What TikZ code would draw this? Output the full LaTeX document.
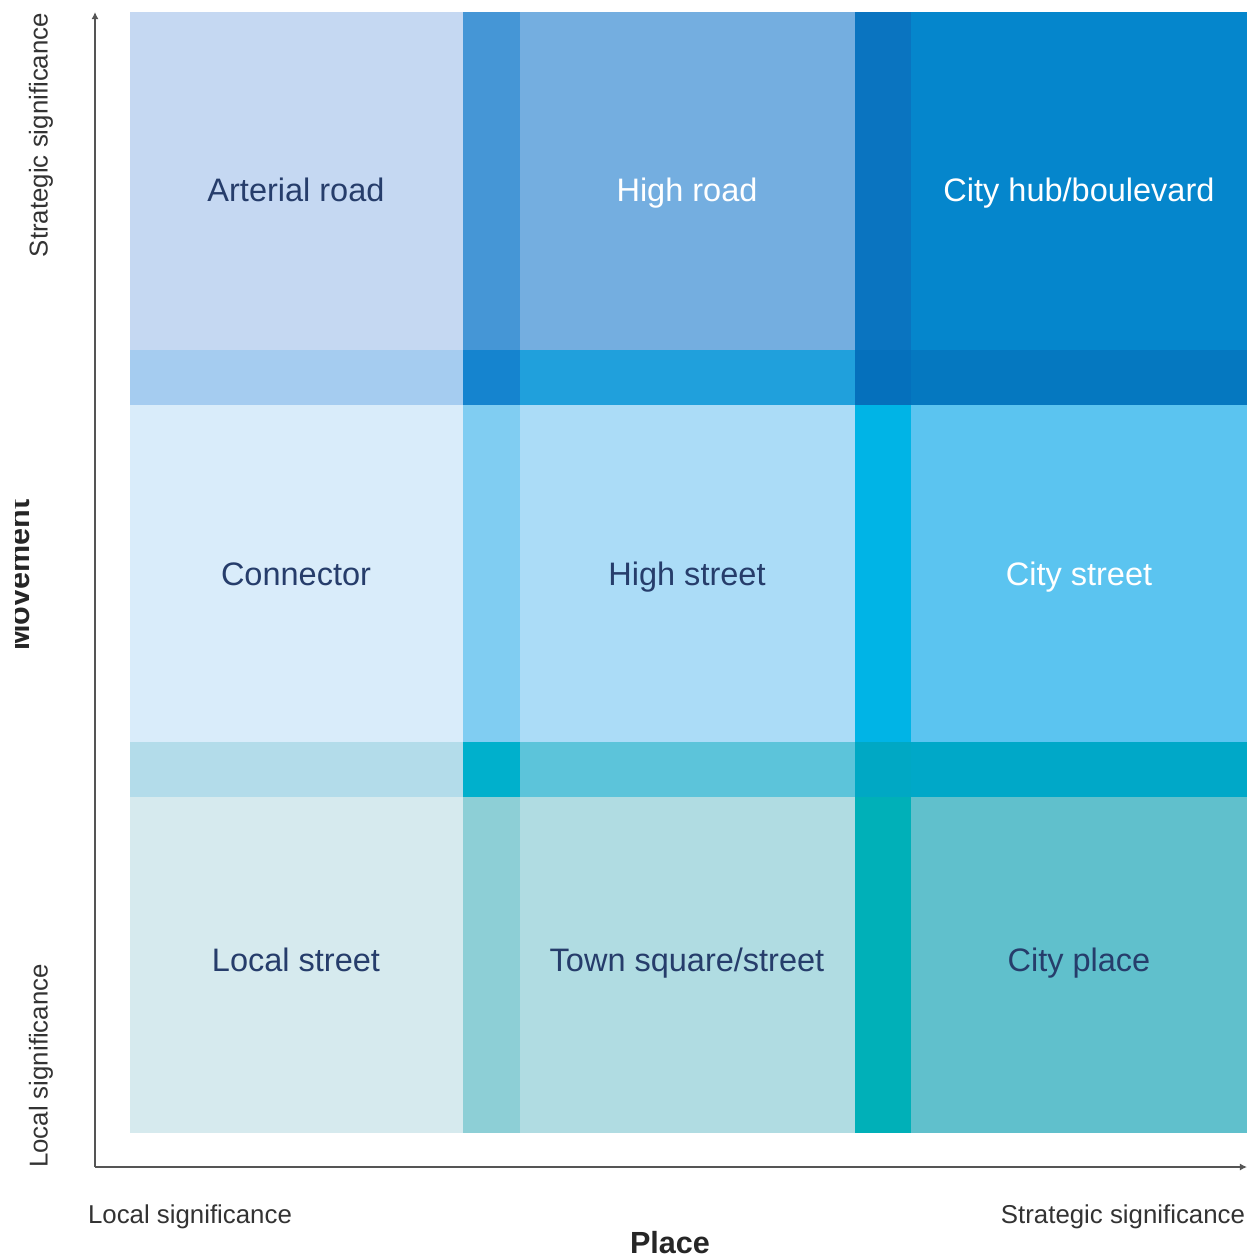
\documentclass[tikz,border=0pt]{standalone}
\usepackage{fontspec}
\setmainfont{Liberation Sans}
\usetikzlibrary{arrows.meta}
\definecolor{navy}{HTML}{263D6B}
\definecolor{axisgray}{HTML}{555555}
\definecolor{labgray}{HTML}{333333}
% row 1
\definecolor{aA}{HTML}{C5D8F2}\definecolor{aB}{HTML}{4596D6}\definecolor{aC}{HTML}{74AEE0}\definecolor{aD}{HTML}{0A74C0}\definecolor{aE}{HTML}{0586CC}
% strip 1
\definecolor{bA}{HTML}{A5CCF0}\definecolor{bB}{HTML}{1584CF}\definecolor{bC}{HTML}{20A0DC}\definecolor{bD}{HTML}{0570BC}\definecolor{bE}{HTML}{0578C0}
% row 2
\definecolor{cA}{HTML}{D9ECFA}\definecolor{cB}{HTML}{80CDF2}\definecolor{cC}{HTML}{ABDCF7}\definecolor{cD}{HTML}{00B4E6}\definecolor{cE}{HTML}{5BC4F0}
% strip 2
\definecolor{dA}{HTML}{B3DCEA}\definecolor{dB}{HTML}{00B0CC}\definecolor{dC}{HTML}{5CC4DA}\definecolor{dD}{HTML}{00A8C4}\definecolor{dE}{HTML}{00A8C8}
% row 3
\definecolor{eA}{HTML}{D6EAEE}\definecolor{eB}{HTML}{8DCFD6}\definecolor{eC}{HTML}{B0DCE2}\definecolor{eD}{HTML}{00B0B8}\definecolor{eE}{HTML}{60C0CC}
\begin{document}
\begin{tikzpicture}[x=0.02cm,y=-0.02cm,
  celltext/.style={font=\fontsize{18.5}{22}\selectfont, text=navy, inner sep=0pt, text height=13.5pt, text depth=4pt},
  celltextw/.style={celltext, text=white},
  axislabel/.style={font=\fontsize{14.7}{17}\selectfont, text=labgray, inner sep=0pt, text height=10.8pt, text depth=3.2pt},
  axistitle/.style={font=\fontsize{17.4}{20}\selectfont\bfseries, text=black!85, inner sep=0pt},
  axisline/.style={draw=axisgray, line width=0.9pt, -{Latex[length=4pt,width=4pt]}}]
\useasboundingbox (0,0) rectangle (1253,1259);
\fill[white] (0,0) rectangle (1253,1259);
% column bounds: 130 463 520 855 911 1247 ; row bounds: 12 350 405 742 797 1133
\foreach \r/\ya/\yb in {a/12/350, b/350/405, c/405/742, d/742/797, e/797/1133}{
  \fill[\r A] (130,\ya) rectangle (463,\yb);
  \fill[\r B] (463,\ya) rectangle (520,\yb);
  \fill[\r C] (520,\ya) rectangle (855,\yb);
  \fill[\r D] (855,\ya) rectangle (911,\yb);
  \fill[\r E] (911,\ya) rectangle (1247,\yb);
}
% cell labels
\node[celltext]  (arterial) at (296,193) {Arterial road};
\node[celltextw] (highroad) at (687,193) {High road};
\node[celltextw] (cityhub)  at (1079,193) {City hub/boulevard};
\node[celltext]  (connector) at (296,577) {Connector};
\node[celltext]  (highstreet) at (687,577) {High street};
\node[celltextw] (citystreet) at (1079,577) {City street};
\node[celltext]  (localstreet) at (296,963) {Local street};
\node[celltext]  (townsquare) at (687,963) {Town square/street};
\node[celltext]  (cityplace) at (1079,963) {City place};
% axes
\coordinate (O) at (95,1167);
\coordinate (Ytop) at (95,12);
\coordinate (Xend) at (1247,1167);
\draw[axisline] (O) -- (Ytop);
\draw[axisline] (O) -- (Xend);
% axis labels
\node[axislabel, rotate=90] (ystrat) at (41,135) {Strategic significance};
\node[axislabel, rotate=90] (ylocal) at (41,1066) {Local significance};
\node[axislabel] (xlocal) at (190,1217) {Local significance};
\node[axislabel] (xstrat) at (1123,1217) {Strategic significance};
\node[axistitle] (place) at (670,1243) {Place};
\begin{scope}
  \clip (15,0) rectangle (1253,1259);
  \node[axistitle, rotate=90, anchor=base] (movement) at (30,575) {Movement};
\end{scope}
\end{tikzpicture}
\end{document}
